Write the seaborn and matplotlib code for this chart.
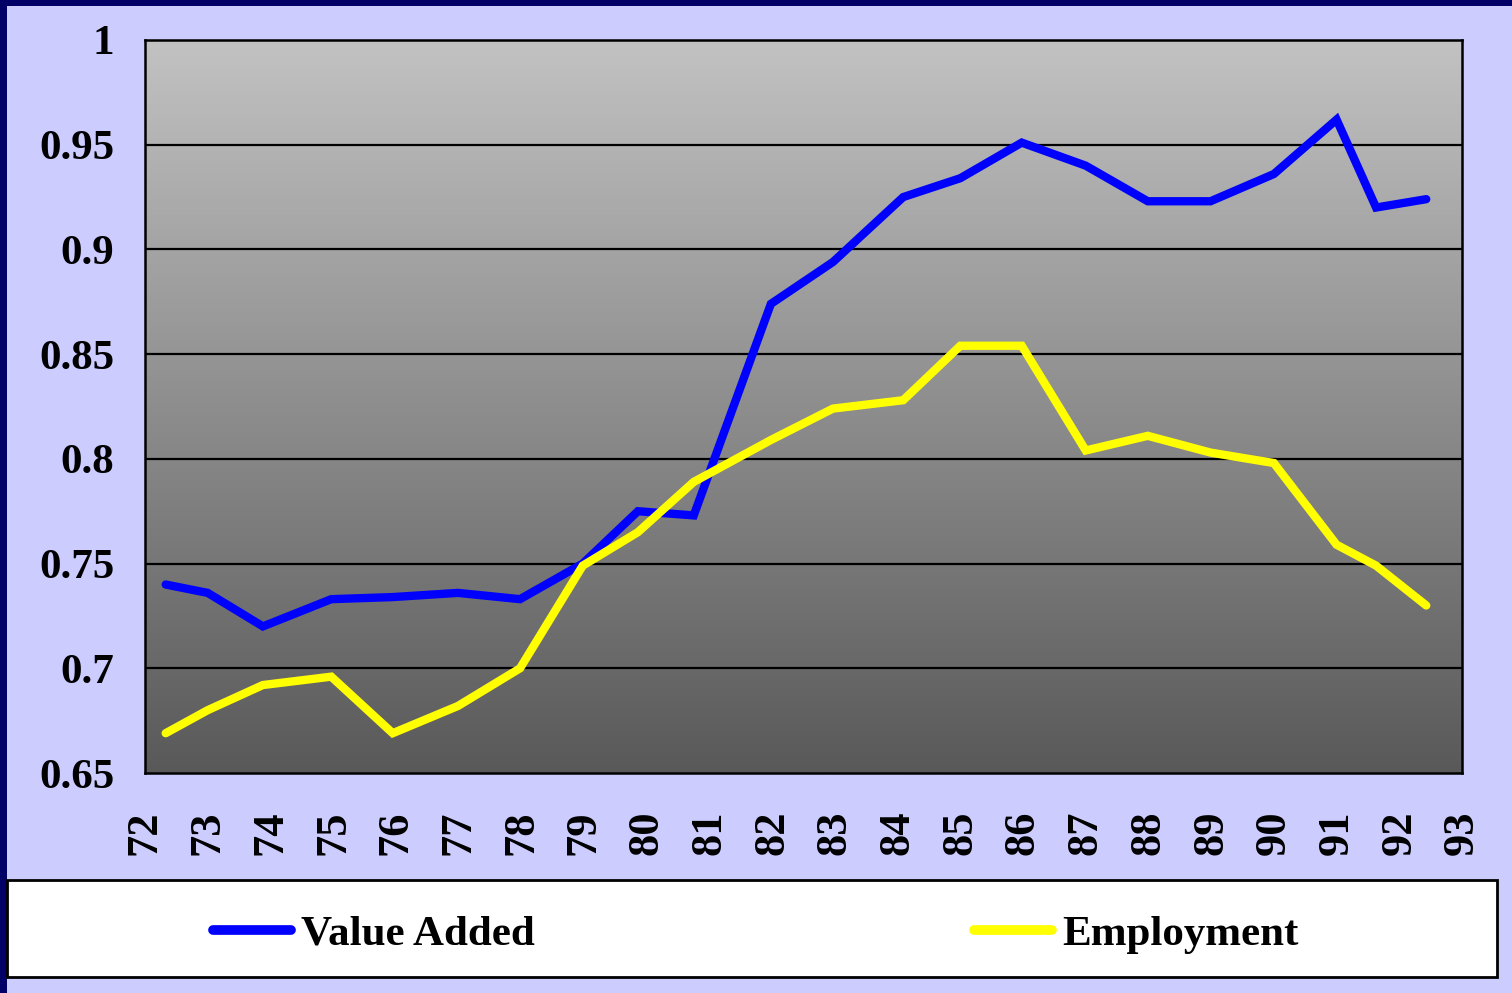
import numpy as np
import pandas as pd
import matplotlib
matplotlib.use('Agg')
import matplotlib.pyplot as plt
from matplotlib.colors import LinearSegmentedColormap
from matplotlib.patches import Rectangle
from matplotlib.lines import Line2D
import seaborn as sns

# data
years = [72.33, 73.0, 73.88, 74.97, 75.95, 76.99, 77.98, 78.98, 79.86, 80.75, 81.98,
         82.97, 84.09, 85.0, 85.98, 87.0, 87.99, 88.99, 90.0, 91.0, 91.63, 92.43]
value_added = [0.740, 0.736, 0.720, 0.733, 0.734, 0.736, 0.733, 0.750, 0.775, 0.773, 0.874,
               0.894, 0.925, 0.934, 0.951, 0.940, 0.923, 0.923, 0.936, 0.962, 0.920, 0.924]
employment = [0.669, 0.680, 0.692, 0.696, 0.669, 0.682, 0.700, 0.749, 0.765, 0.789, 0.809,
              0.824, 0.828, 0.854, 0.854, 0.804, 0.811, 0.803, 0.798, 0.759, 0.749, 0.730]
x_ticks = list(range(72, 94))
y_ticks = [0.65, 0.7, 0.75, 0.8, 0.85, 0.9, 0.95, 1]
y_labels = ['0.65', '0.7', '0.75', '0.8', '0.85', '0.9', '0.95', '1']

df = pd.DataFrame({'year': years * 2,
                   'value': value_added + employment,
                   'series': ['Value Added'] * len(years) + ['Employment'] * len(years)})

sns.set_style('white')
plt.rcParams['font.family'] = ['Liberation Serif', 'DejaVu Serif']
plt.rcParams['font.weight'] = 'bold'
plt.rcParams['text.color'] = 'black'

W, H = 1512, 993
fig = plt.figure(figsize=(W / 100, H / 100), dpi=100, facecolor='#CCCCFF')
ax = fig.add_axes([145 / W, 1 - 773 / H, (1462 - 145) / W, (773 - 40) / H])

# navy frame on left and top
fig.patches.append(Rectangle((0, 0), 7 / W, 1, transform=fig.transFigure,
                             facecolor='#000066', edgecolor='none', zorder=0))
fig.patches.append(Rectangle((0, 1 - 6 / H), 1, 6 / H, transform=fig.transFigure,
                             facecolor='#000066', edgecolor='none', zorder=0))

# gray gradient background of the plot area
cmap = LinearSegmentedColormap.from_list('g', ['#595959', '#C2C2C2'])
grad = np.linspace(0, 1, 256).reshape(-1, 1)
ax.imshow(grad, cmap=cmap, aspect='auto', origin='lower',
          extent=(0, 1, 0, 1), transform=ax.transAxes, zorder=0)

sns.lineplot(data=df, x='year', y='value', hue='series',
             palette={'Value Added': '#0000FF', 'Employment': '#FFFF00'},
             linewidth=6, ax=ax, legend=False, sort=False, zorder=3)
for line in ax.lines:
    line.set_solid_capstyle('round')
    line.set_solid_joinstyle('miter')

ax.set_xlim(72, 93)
ax.set_ylim(0.65, 1)
ax.set_xticks(x_ticks)
ax.set_xticklabels([str(t) for t in x_ticks], rotation=90, fontsize=32, fontweight='bold')
ax.set_yticks(y_ticks)
ax.set_yticklabels(y_labels, fontsize=31, fontweight='bold')
ax.set_xlabel('')
ax.set_ylabel('')
for y in y_ticks[1:-1]:
    ax.axhline(y, color='black', linewidth=1.6, zorder=2)
for s in ax.spines.values():
    s.set_color('black')
    s.set_linewidth(1.8)
    s.set_visible(True)
ax.tick_params(axis='both', direction='out', width=1.2, color='#333333', labelcolor='black')
ax.tick_params(axis='x', length=9, pad=18)
ax.tick_params(axis='y', length=9, pad=13)

# legend box
fig.patches.append(Rectangle((7 / W, 1 - 977 / H), 1490 / W, 97 / H, transform=fig.transFigure,
                             facecolor='white', edgecolor='black', linewidth=2, zorder=1))
handles = [Line2D([], [], color='#0000FF', linewidth=7, solid_capstyle='round'),
           Line2D([], [], color='#FFFF00', linewidth=7, solid_capstyle='round')]
leg = fig.legend(handles, ['Value Added', 'Employment'], loc='center',
                 bbox_to_anchor=(0.5, 1 - 934 / H), ncol=2, frameon=False,
                 prop={'family': 'Liberation Serif', 'weight': 'bold', 'size': 31},
                 labelcolor='black',
                 handlelength=1.8, handletextpad=0.25, columnspacing=10.2)
leg.set_zorder(2)

fig.savefig('out.png', dpi=100, facecolor=fig.get_facecolor())
